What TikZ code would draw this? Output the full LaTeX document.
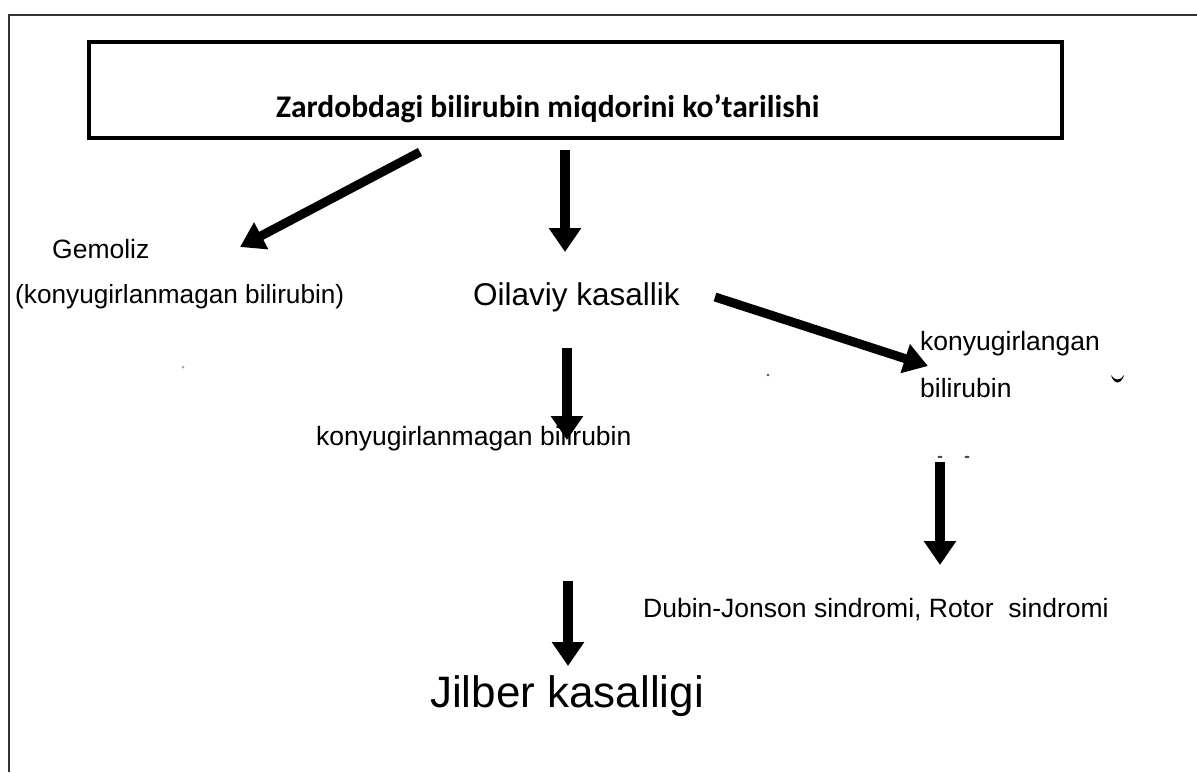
\documentclass[tikz,border=0pt]{standalone}
\usepackage{fontspec}
\setmainfont{Liberation Sans}
\newfontfamily\titlefont{Carlito}
\usetikzlibrary{arrows.meta}

\tikzset{
  lbl/.style={inner sep=0pt, anchor=base west, font=\fontsize{26.5}{47}\selectfont},
  biglbl/.style={inner sep=0pt, anchor=base west, font=\fontsize{31.5}{38}\selectfont},
  hugelbl/.style={inner sep=0pt, anchor=base west, font=\fontsize{44}{50}\selectfont},
  headline/.style={inner sep=0pt, anchor=base west, font=\titlefont\bfseries\fontsize{31.5}{36}\selectfont},
  thickarrow/.style={line width=10pt, -{Triangle[length=24pt,width=31pt]}},
  slantarrow/.style={line width=9pt, -{Triangle[length=24pt,width=29pt]}},
  frameline/.style={line width=1.8pt, black!80},
  speck/.style={fill=black!70, draw=none}
}

\begin{document}
\begin{tikzpicture}[x=1pt, y=-1pt]
  \useasboundingbox (0,0) rectangle (1197,772);

  % page frame (top and left edges)
  \draw[frameline] (1197,15) -- (9,15) -- (9,772);

  % heading box and its text
  \node[draw, line width=4pt, minimum width=973pt, minimum height=96pt, inner sep=0pt]
    (box) at (575.5,90) {};
  \node[headline] (title) at (276,117) {Zardobdagi bilirubin miqdorini ko’tarilishi};

  % labels
  \node[lbl] (gem) at (52,258) {Gemoliz};
  \node[lbl, font=\fontsize{26.2}{47}\selectfont] (gemsub) at (15,303) {(konyugirlanmagan bilirubin)};
  \node[biglbl] (oil) at (473,305) {Oilaviy kasallik};
  \node[lbl] (konj1) at (920,350) {konyugirlangan};
  \node[lbl] (konj2) at (920,397) {bilirubin};
  \node[lbl] (unkonj) at (316,445) {konyugirlanmagan bilirubin};
  \node[lbl] (dubin) at (643,617) {Dubin-Jonson sindromi, Rotor\ \ sindromi};
  \node[hugelbl] (jilber) at (430,707) {Jilber kasalligi};

  % arrow end points
  \coordinate (a1s) at (420,152);  \coordinate (a1e) at (240,247);
  \coordinate (a2s) at (565,150);  \coordinate (a2e) at (565,252);
  \coordinate (a3s) at (715,297);  \coordinate (a3e) at (928,366);
  \coordinate (a4s) at (567,348);  \coordinate (a4e) at (567,440);
  \coordinate (a5s) at (940,462);  \coordinate (a5e) at (940,565);
  \coordinate (a6s) at (568,581);  \coordinate (a6e) at (568,666);

  % arrows
  \draw[slantarrow] (a1s) -- (a1e);
  \draw[thickarrow] (a2s) -- (a2e);
  \draw[slantarrow] (a3s) -- (a3e);
  \draw[thickarrow] (a4s) -- (a4e);
  \draw[thickarrow] (a5s) -- (a5e);
  \draw[thickarrow] (a6s) -- (a6e);

  % small marks on the sheet
  \fill[speck, black!35] (183,367) circle (1.5pt);
  \fill[speck] (768,375) circle (1.3pt);
  \fill[speck] (940,457) ellipse (2.5pt and 1.2pt);
  \fill[speck] (967,457) ellipse (2.5pt and 1.2pt);
  \fill[black] (1111,375) .. controls (1114,381) and (1121,381) .. (1124,375)
    -- (1123,378) .. controls (1120,384) and (1115,384) .. (1112,378) -- cycle;
\end{tikzpicture}
\end{document}
